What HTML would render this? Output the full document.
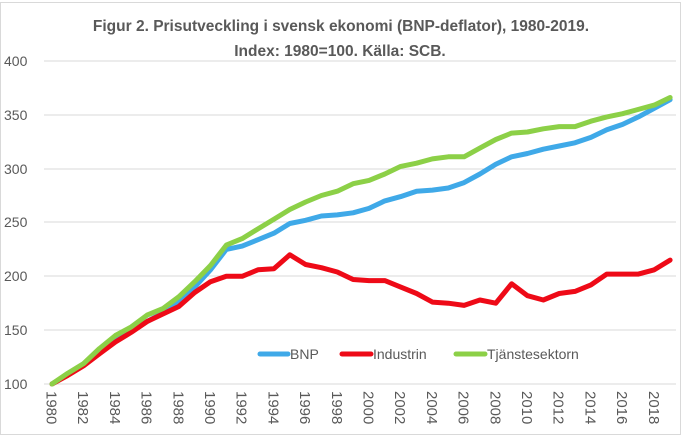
<!DOCTYPE html>
<html><head><meta charset="utf-8"><style>body{margin:0;background:#fff}svg{display:block;font-family:"Liberation Sans",sans-serif}</style></head><body>
<svg width="687" height="441" viewBox="0 0 687 441">
<rect x="0.5" y="2.5" width="680" height="432" fill="#fff" stroke="#d9d9d9"/>
<text x="341" y="31" text-anchor="middle" font-size="15.5" font-weight="bold" fill="#595959">Figur 2. Prisutveckling i svensk ekonomi (BNP-deflator), 1980-2019.</text>
<text x="340" y="56" text-anchor="middle" font-size="15.5" font-weight="bold" fill="#595959">Index: 1980=100. Källa: SCB.</text>
<g stroke="#d9d9d9" stroke-width="1">
<line x1="44" x2="676" y1="61" y2="61"/><line x1="44" x2="676" y1="115" y2="115"/><line x1="44" x2="676" y1="169" y2="169"/><line x1="44" x2="676" y1="222" y2="222"/><line x1="44" x2="676" y1="276" y2="276"/><line x1="44" x2="676" y1="330" y2="330"/><line x1="44" x2="676" y1="384" y2="384"/>
</g>
<g font-size="14" fill="#595959">
<text x="4" y="66">400</text><text x="4" y="120">350</text><text x="4" y="174">300</text><text x="4" y="227">250</text><text x="4" y="281">200</text><text x="4" y="335">150</text><text x="4" y="389">100</text>
</g>
<g font-size="15" fill="#595959" id="xl"></g>
<g fill="none" stroke-width="5" stroke-linejoin="round" stroke-linecap="round">
<polyline id="bnp" stroke="#3fa9e8"/>
<polyline id="ind" stroke="#ee0a17"/>
<polyline id="tj" stroke="#8cd047"/>
</g>
<g stroke-width="5" stroke-linecap="round">
<line x1="260" x2="288" y1="354" y2="354" stroke="#3fa9e8"/>
<line x1="342" x2="371" y1="354" y2="354" stroke="#ee0a17"/>
<line x1="456" x2="485" y1="354" y2="354" stroke="#8cd047"/>
</g>
<g font-size="14" fill="#595959">
<text x="290" y="359">BNP</text><text x="373" y="359">Industrin</text><text x="487" y="359">Tjänstesektorn</text>
</g>
</svg>
<script>
var B=[100,109,118,130,141,149,158,166,176,190,206,225,228,234,240,249,252,256,257,259,263,270,274,279,280,282,287,295,304,311,314,318,321,324,329,336,341,348,356,364];
var I=[100,108,117,128,139,148,158,165,172,185,195,200,200,206,207,220,211,208,204,197,196,196,190,184,176,175,173,178,175,193,182,178,184,186,192,202,202,202,206,215];
var T=[100,110,119,133,145,153,164,170,181,195,210,229,235,244,253,262,269,275,279,286,289,295,302,305,309,311,311,319,327,333,334,337,339,339,344,348,351,355,359,366];
function pts(a){return a.map(function(v,i){return (52+i*15.85).toFixed(1)+","+(384-(v-100)*1.077).toFixed(1)}).join(" ")}
document.getElementById("bnp").setAttribute("points",pts(B));
document.getElementById("ind").setAttribute("points",pts(I));
document.getElementById("tj").setAttribute("points",pts(T));
var g=document.getElementById("xl"),s="";
for(var y=1980;y<=2018;y+=2){var x=52+(y-1980)*15.85-5.5;s+='<text transform="translate('+x.toFixed(1)+',391) rotate(90)">'+y+'</text>';}
g.innerHTML=s;
</script>
</body></html>
